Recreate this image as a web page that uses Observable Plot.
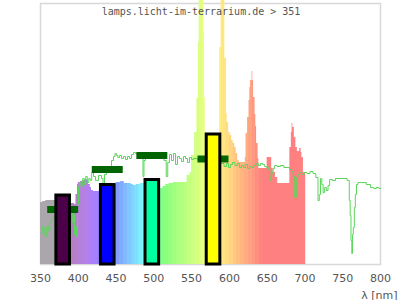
<!DOCTYPE html>
<html><head><meta charset="utf-8">
<script src="https://cdn.jsdelivr.net/npm/d3@7"></script>
<script src="https://cdn.jsdelivr.net/npm/@observablehq/plot@0.6"></script>
<style>body{margin:0;background:#fff;}</style>
</head><body><div id="chart"></div>
<script>
const title = "lamps.licht-im-terrarium.de > 351";
const xTicks = [350, 400, 450, 500, 550, 600, 650, 700, 750, 800];
const xLabel = "λ [nm]";

// lamp spectrum (step bins: value from wl[i] to wl[i+1])
const specWl = [350,353,357,362,366,370,378,385,391,393,395,397,399,400,403,406,409,412,413.5,416,417.5,420,424,428,435,442,450,453,456,461,466,470,473,477,482,486,492,500,509,512,516,520,526,532,538,542,544,548,550,554,557,559,560,566,567,568,570,580,587,589,594,596,597,599,601,603,605,607,609,611,613,621,622,624,626,627,628,630,631,632,634,635,636,638,639,650,656,658,661,664,680,682,683,684,686,688,690,693,695,696,698];
const specVal = [62,63,64,64,64,63,62,62,61,61,60,70,80,82,83,84,85,84,80,77,74,73,73,74,77,80,82,82,83,81,81,80,79,80,81,81,79,78,76,78,80,81,82,82,82,82,89,92,109,132,166,222,420,232,167,132,128,130,217,380,206,151,142,132,129,124,121,117,111,104,102,107,131,147,164,177,184,193,184,167,150,138,121,106,96,107,96,92,87,81,117,132,141,137,127,117,113,116,112,107,92];
const specEnd = 701;

// reference spectrum (green line)
const lineWl = [352,354,355.3,357.3,359.3,361.3,363.2,365.9,368.5,373.8,379.1,384.4,389.7,391,393,394.3,395.7,397,398.3,399.6,401,402.9,404.9,406.9,408.9,410.9,412.9,414.9,416.8,418.8,421.5,424.1,429.4,432.1,433.4,436,438.7,442.6,445.3,447.9,449.3,451.5,453.2,455.9,458.5,461.2,463.8,466.5,469.1,471.8,474.4,477.1,482.4,485,486.3,487.6,490.3,495.6,498.2,502.2,506.2,511.5,515.4,517.4,519.4,522.1,524.7,527.4,530,532.6,535.3,537.9,540.6,543.2,545.9,548.5,551.2,553.8,561.8,575,585.6,590.9,594.9,597.5,600.1,602.8,605.4,609.4,612.1,614.7,617.4,620,622.6,625.3,628,630.6,633.2,636.8,639.8,642.5,645.5,647.8,650.4,652.4,654.4,655.7,657,658.8,661,665,669.9,674.3,678.2,680.9,683.5,685.5,687.5,689.7,691.5,694.1,696.8,700.7,704.7,708.7,712.6,716.2,718.3,719.7,721.5,723.2,725,727.2,729.5,731.6,733.8,738.2,742.7,747.1,753.7,758,759.4,760.3,761.6,762.5,763.3,764.7,766,767.3,769.1,771.3,777.9,784.5,789,793.4,795.6,800];
const lineVal = [38,31,36,28,38,34,42,45,48,50,52,54,55,54,42,50,30,38,28,60,78,82,78,86,80,88,82,86,84,92,88,84,89,86,80,90,96,97,104,108,111,109,107,109,106,108,105,108,106,110,112,111,110,108,88,104,110,112,108,111,109,110,104,88,102,110,104,111,100,108,106,103,108,106,102,107,105,106,104,103,102,101,98,101,97,100,102,99,101,97,99,97,100,96,98,97,99,101,99,101,100,98,97,95,84,89,92,96,99,98,99,97,97,95,93,88,67,87,90,92,90,92,91,93,91,87,64,70,86,80,72,77,74,79,85,84,86,86,86,84,64,49,24,11,30,37,57,70,80,82,82,80,77,76,77,76];

// measured bands
const barWl = [380, 439, 498, 579];
const barVal = [69, 79.5, 84.5, 130];
const barColors = ["#4b0049", "#0000ff", "#00ffa0", "#ffff00"];
const markVal = [55, 95, 109, 105.5];

function wlColor(w) {
  if (w < 378) return "#aba6ac";
  let r, g, b;
  if (w < 440) { r = (440 - w) / 60; g = 0; b = 1; }
  else if (w < 490) { r = 0; g = (w - 440) / 50; b = 1; }
  else if (w < 510) { r = 0; g = 1; b = (510 - w) / 20; }
  else if (w < 580) { r = (w - 510) / 70; g = 1; b = 0; }
  else if (w < 645) { r = 1; g = (645 - w) / 65; b = 0; }
  else { r = 1; g = 0; b = 0; }
  const f = w < 420 ? Math.max(0.3, 0.3 + 0.7 * (w - 380) / 40) : 1;
  const m = v => Math.round(255 * (0.5 + 0.5 * v * f));
  return d3.rgb(m(r), m(g), m(b)).formatHex();
}

const specData = specWl.map((w, i) => ({w, v: specVal[i]}));
specData.push({w: specEnd, v: specVal[specVal.length - 1]});
const lineData = lineWl.map((w, i) => ({w, v: lineVal[i]}));
const bars = barWl.map((w, i) => ({w, v: barVal[i], c: barColors[i], m: markVal[i]}));

const chart = Plot.plot({
  width: 400, height: 300,
  marginLeft: 40, marginRight: 20, marginTop: 3, marginBottom: 36,
  style: {background: "#fff", fontFamily: "DejaVu Sans, sans-serif", fontSize: "11px", color: "#555"},
  x: {domain: [350, 800], ticks: xTicks, tickSize: 0, tickPadding: 10, label: xLabel, labelAnchor: "right", labelArrow: "none", labelOffset: 34},
  y: {domain: [0, 261], axis: null},
  marks: [
    Plot.frame({stroke: "#d8d8d8", strokeWidth: 1.5}),
    Plot.areaY(specData, {x: "w", y: "v", curve: "step-after", fill: "url(#specGrad)"}),
    Plot.line(lineData, {x: "w", y: "v", stroke: "#5ad65a", strokeWidth: 1, curve: "step"}),
    Plot.ruleY(bars, {y: "m", x1: d => d.w - 20.5, x2: d => d.w + 20.5, stroke: "#006400", strokeWidth: 7}),
    Plot.rect(bars, {x1: d => d.w - 9, x2: d => d.w + 9, y1: 0, y2: "v", fill: "c", stroke: "#000", strokeWidth: 3}),
    Plot.text([title], {frameAnchor: "top", dx: -9.5, dy: 8.5, lineAnchor: "middle", fontFamily: "DejaVu Sans Mono, monospace", fontSize: 10, fill: "#555"})
  ]
});

// hard-stop colour gradient in 5 nm strips, positioned through the x scale
const xs = chart.scale("x");
const ns = "http://www.w3.org/2000/svg";
const defs = document.createElementNS(ns, "defs");
const grad = document.createElementNS(ns, "linearGradient");
grad.setAttribute("id", "specGrad");
grad.setAttribute("gradientUnits", "userSpaceOnUse");
grad.setAttribute("x1", 0); grad.setAttribute("x2", 400);
grad.setAttribute("y1", 0); grad.setAttribute("y2", 0);
for (let k = 350; k < specEnd; k += 5) {
  const c = wlColor(k + 2.5);
  [k, Math.min(k + 5, specEnd)].forEach(w => {
    const s = document.createElementNS(ns, "stop");
    s.setAttribute("offset", (xs.apply(w) / 400).toFixed(5));
    s.setAttribute("stop-color", c);
    grad.appendChild(s);
  });
}
defs.appendChild(grad);
chart.insertBefore(defs, chart.firstChild);
document.getElementById("chart").appendChild(chart);
</script>
</body></html>
